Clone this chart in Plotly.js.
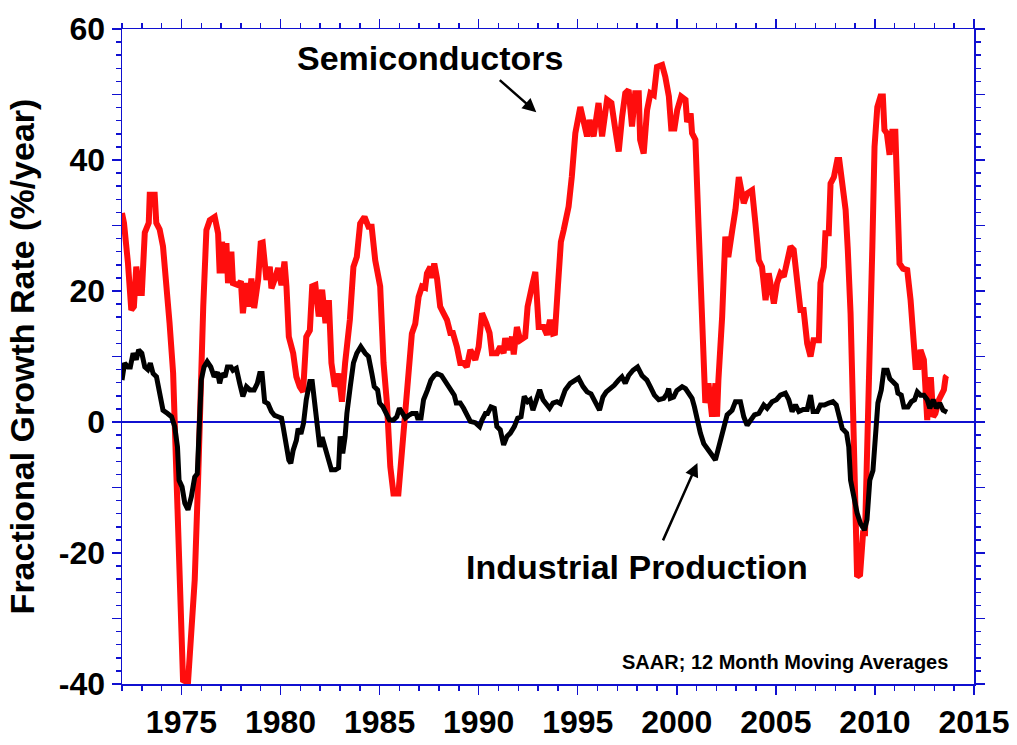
<!DOCTYPE html>
<html>
<head>
<meta charset="utf-8">
<script src="https://cdn.plot.ly/plotly-3.0.1.min.js"></script>
<style>html,body{margin:0;padding:0;background:#fff;}#chart{width:1017px;height:745px;}</style>
</head>
<body>
<div id="chart"></div>
<script>
// Semiconductors (red) — decimal year / growth %/yr
const semiYears = [1972.00,1972.10,1972.30,1972.47,1972.60,1972.72,1972.90,1973.00,1973.15,1973.35,1973.40,1973.65,1973.73,1973.90,1974.07,1974.24,1974.40,1974.58,1974.70,1974.83,1975.00,1975.08,1975.33,1975.50,1975.67,1975.84,1976.00,1976.10,1976.26,1976.43,1976.68,1976.85,1976.93,1977.05,1977.20,1977.27,1977.35,1977.52,1977.60,1977.86,1978.00,1978.10,1978.28,1978.40,1978.53,1978.67,1978.87,1979.00,1979.10,1979.29,1979.46,1979.54,1979.70,1979.88,1980.05,1980.20,1980.30,1980.42,1980.64,1980.80,1980.97,1981.14,1981.30,1981.48,1981.60,1981.76,1981.93,1982.10,1982.27,1982.44,1982.57,1982.74,1982.93,1983.10,1983.26,1983.50,1983.68,1983.85,1984.02,1984.24,1984.44,1984.60,1984.78,1985.03,1985.20,1985.37,1985.54,1985.70,1985.95,1986.13,1986.30,1986.46,1986.63,1986.80,1986.97,1987.14,1987.30,1987.39,1987.56,1987.64,1987.76,1987.90,1988.06,1988.23,1988.40,1988.57,1988.70,1988.90,1989.07,1989.24,1989.40,1989.58,1989.83,1990.00,1990.17,1990.38,1990.55,1990.67,1990.92,1991.09,1991.26,1991.34,1991.50,1991.68,1991.77,1991.93,1992.10,1992.35,1992.47,1992.69,1992.86,1993.03,1993.28,1993.45,1993.60,1993.75,1993.85,1994.00,1994.15,1994.29,1994.54,1994.70,1994.88,1995.13,1995.30,1995.47,1995.60,1995.80,1996.05,1996.23,1996.48,1996.70,1996.90,1997.07,1997.24,1997.40,1997.57,1997.74,1997.90,1998.08,1998.15,1998.33,1998.50,1998.67,1998.84,1999.00,1999.26,1999.42,1999.60,1999.72,1999.88,2000.02,2000.22,2000.44,2000.52,2000.70,2000.77,2000.94,2001.10,2001.27,2001.44,2001.60,2001.78,2001.95,2002.03,2002.10,2002.29,2002.45,2002.60,2002.80,2002.96,2003.13,2003.38,2003.55,2003.80,2003.97,2004.14,2004.30,2004.48,2004.64,2004.90,2005.06,2005.23,2005.40,2005.57,2005.74,2005.90,2006.07,2006.24,2006.40,2006.58,2006.75,2006.90,2007.17,2007.25,2007.42,2007.50,2007.67,2007.76,2007.93,2008.10,2008.20,2008.35,2008.52,2008.63,2008.77,2008.90,2009.02,2009.10,2009.25,2009.40,2009.50,2009.60,2009.75,2009.87,2009.98,2010.12,2010.28,2010.40,2010.48,2010.60,2010.74,2010.87,2011.03,2011.12,2011.24,2011.42,2011.63,2011.80,2011.96,2012.05,2012.20,2012.30,2012.47,2012.55,2012.64,2012.72,2012.83,2012.94,2013.05,2013.23,2013.40,2013.48,2013.57,2013.62];
const semiValues = [31.9,30.4,24.3,17.1,17.6,23.7,19.7,19.7,28.9,30.4,34.7,34.7,30.4,29.4,26.8,21.7,15.1,7.5,-3.8,-19.0,-29.2,-39.4,-39.8,-31.8,-24.1,-8.9,9.0,17.6,29.3,30.8,31.3,28.8,22.7,27.5,22.7,27.3,21.2,26.0,21.2,20.9,21.5,16.6,21.2,17.6,21.9,17.4,21.7,27.3,27.4,21.7,23.7,20.4,21.7,23.5,20.9,24.5,20.7,13.0,10.5,6.9,5.4,4.6,13.0,14.0,20.7,20.9,16.1,20.2,15.1,18.6,9.0,5.4,7.4,3.1,9.0,15.6,23.7,25.2,30.3,31.3,29.8,29.8,24.7,20.7,9.0,2.9,-6.8,-10.9,-10.9,-4.8,1.3,7.9,13.5,15.0,19.1,20.7,20.5,22.7,23.7,22.0,24.2,21.9,17.6,16.6,15.6,13.6,13.6,11.5,9.0,9.0,8.4,11.0,9.5,11.5,16.6,15.1,13.6,10.5,10.5,11.5,10.5,12.8,11.0,13.0,10.3,14.5,12.5,13.0,17.6,20.7,22.9,14.5,14.5,13.3,15.6,13.5,13.6,20.7,27.5,29.3,32.9,37.4,44.1,48.1,45.6,43.6,46.1,43.6,48.7,43.6,49.2,48.7,44.6,41.3,46.6,50.2,50.7,45.1,50.2,50.2,43.1,41.0,47.6,50.2,49.9,54.2,54.5,52.7,49.7,44.8,44.8,47.6,49.7,49.2,45.8,47.1,44.1,43.1,29.8,16.1,2.9,5.9,0.8,5.9,0.8,6.4,16.1,28.3,25.2,29.3,32.4,37.4,33.4,34.9,35.4,30.3,24.7,23.7,18.6,22.7,18.1,21.2,22.7,22.2,24.7,26.8,26.3,22.2,17.1,17.1,12.0,10.0,12.5,12.5,21.2,23.7,28.8,28.8,36.4,37.4,40.0,40.0,35.4,32.4,26.3,16.6,1.3,-16.5,-23.6,-23.3,-17.0,-17.0,-6.3,6.4,26.8,42.0,48.1,49.7,49.7,44.6,44.1,40.8,44.3,44.3,34.4,24.2,23.4,23.2,18.6,13.5,8.4,8.4,11.0,9.5,3.9,0.3,6.4,6.4,0.8,1.3,3.4,4.9,4.9,6.9,7.1];

// Industrial Production (black)
const indYears = [1972.00,1972.13,1972.30,1972.42,1972.56,1972.72,1972.84,1973.00,1973.15,1973.30,1973.43,1973.57,1973.74,1973.90,1974.07,1974.30,1974.50,1974.66,1974.80,1974.88,1975.03,1975.17,1975.33,1975.50,1975.67,1975.80,1975.89,1976.00,1976.14,1976.30,1976.48,1976.65,1976.82,1976.93,1977.05,1977.20,1977.32,1977.50,1977.60,1977.77,1977.94,1978.10,1978.28,1978.45,1978.67,1978.83,1978.95,1979.07,1979.20,1979.37,1979.54,1979.70,1979.88,1980.05,1980.13,1980.30,1980.42,1980.52,1980.64,1980.80,1980.89,1981.03,1981.16,1981.30,1981.48,1981.60,1981.73,1981.86,1981.98,1982.10,1982.24,1982.40,1982.57,1982.77,1982.93,1983.01,1983.14,1983.26,1983.35,1983.52,1983.68,1983.85,1984.05,1984.27,1984.44,1984.61,1984.73,1984.90,1985.00,1985.17,1985.34,1985.50,1985.70,1985.87,1986.00,1986.13,1986.30,1986.46,1986.63,1986.85,1986.92,1987.09,1987.22,1987.42,1987.59,1987.76,1987.90,1988.12,1988.31,1988.53,1988.77,1988.87,1989.07,1989.24,1989.40,1989.58,1989.83,1990.05,1990.17,1990.34,1990.45,1990.62,1990.79,1990.92,1991.09,1991.26,1991.43,1991.60,1991.80,1991.97,1992.14,1992.30,1992.47,1992.60,1992.74,1992.90,1993.08,1993.25,1993.42,1993.58,1993.75,1993.95,1994.12,1994.37,1994.62,1994.82,1995.04,1995.27,1995.47,1995.67,1995.89,1996.10,1996.27,1996.44,1996.64,1996.84,1997.06,1997.23,1997.40,1997.57,1997.79,1998.02,1998.24,1998.49,1998.66,1998.87,1999.09,1999.34,1999.50,1999.59,1999.67,1999.84,2000.00,2000.27,2000.44,2000.60,2000.77,2000.89,2001.02,2001.19,2001.36,2001.56,2001.72,2001.95,2002.12,2002.29,2002.40,2002.54,2002.79,2002.96,2003.21,2003.38,2003.55,2003.72,2003.92,2004.14,2004.39,2004.56,2004.81,2005.03,2005.23,2005.48,2005.65,2005.82,2005.99,2006.16,2006.38,2006.58,2006.75,2006.88,2007.09,2007.25,2007.45,2007.67,2007.88,2008.05,2008.23,2008.35,2008.57,2008.68,2008.77,2008.93,2009.10,2009.27,2009.47,2009.60,2009.74,2009.90,2010.03,2010.15,2010.32,2010.45,2010.62,2010.75,2010.92,2011.08,2011.16,2011.33,2011.46,2011.67,2011.84,2012.00,2012.14,2012.30,2012.47,2012.64,2012.77,2012.94,2013.10,2013.27,2013.44,2013.64];
const indValues = [6.4,9.0,8.4,8.4,10.5,9.5,11.0,10.5,8.4,8.0,9.0,7.4,6.9,4.4,1.8,1.3,0.8,-0.7,-3.8,-8.9,-9.9,-12.4,-13.4,-11.4,-8.4,-7.9,1.3,6.4,8.4,9.2,8.4,6.9,7.6,5.9,7.4,6.9,8.4,8.4,7.9,8.2,5.9,3.9,5.4,4.9,4.9,5.9,7.4,7.4,3.1,2.8,1.6,1.0,0.8,0.6,-0.7,-3.8,-5.8,-6.3,-4.3,-2.8,-1.0,-1.8,-0.2,3.4,6.2,6.2,2.3,-0.2,-3.8,-2.3,-3.8,-5.8,-7.3,-7.3,-7.0,-2.2,-4.8,-2.2,1.3,5.4,9.0,10.5,11.5,10.5,10.0,7.4,5.4,4.9,2.9,2.3,1.3,0.3,0.3,0.8,2.1,1.3,0.6,1.0,1.3,1.3,0.6,0.6,3.4,4.9,6.4,7.1,7.4,7.1,6.2,5.1,4.1,2.9,2.9,2.1,1.0,0.1,-0.1,-0.7,0.3,1.3,1.3,2.3,2.1,-0.7,-1.2,-3.5,-2.2,-1.7,-0.7,0.6,0.8,3.9,3.1,3.4,1.8,3.4,4.9,3.4,2.6,2.1,2.9,3.1,2.8,4.9,5.9,6.2,6.7,5.4,4.6,4.3,3.1,1.8,3.8,4.6,5.1,5.6,6.4,6.9,5.9,7.1,7.9,8.4,7.1,6.4,5.4,4.1,3.4,3.6,4.3,5.1,3.6,3.8,4.8,5.4,5.1,4.3,3.6,2.3,0.3,-1.7,-3.3,-4.0,-4.8,-5.8,-4.0,-2.2,-0.7,1.1,1.8,3.1,3.1,0.8,-0.5,0.3,1.1,1.3,2.6,2.1,3.1,3.4,4.1,4.4,3.4,1.6,2.6,1.6,1.9,1.9,4.1,1.6,1.6,2.6,2.6,2.9,3.1,2.6,0.3,-1.0,-1.7,-3.8,-8.9,-11.4,-13.9,-15.5,-16.5,-14.9,-8.9,-7.4,-1.2,2.9,4.9,7.9,7.9,6.6,6.1,5.6,4.4,4.1,2.3,2.3,3.1,3.4,4.6,4.1,4.1,3.4,2.1,3.4,2.1,2.9,1.8,1.5];

const yTickVals = [-40,-30,-20,-10,0,10,20,30,40,50,60];
const yTickText = ['-40','','-20','','0','','20','','40','','60'];
const seriesLabels = ['Semiconductors','Industrial Production'];
const noteText = 'SAAR; 12 Month Moving Averages';
const yTitle = 'Fractional Growth Rate (%/year)';

const blue = '#1010d0';
const fontFam = 'Liberation Sans, Arial, Helvetica, sans-serif';

const traces = [
  {x: semiYears, y: semiValues, type:'scatter', mode:'lines', line:{color:'#ff0d0d', width:6}, hoverinfo:'skip'},
  {x: indYears, y: indValues, type:'scatter', mode:'lines', line:{color:'#000000', width:5}, hoverinfo:'skip'}
];

const axisCommon = {
  showgrid:false, showline:true, linecolor:blue, linewidth:1.5,
  ticks:'outside', tickcolor:blue, tickwidth:1.5, ticklen:9, mirror:'ticks',
  tickfont:{family:fontFam, size:32, color:'#000', weight:700}
};

const layout = {
  width:1017, height:745,
  margin:{l:122, r:43, t:29, b:61},
  paper_bgcolor:'#fff', plot_bgcolor:'#fff',
  showlegend:false,
  font:{family:fontFam, color:'#000'},
  xaxis: Object.assign({}, axisCommon, {
    range:[1972, 2015], tickmode:'linear', tick0:1975, dtick:5,
    zeroline:false, ticklabelstandoff:0,
    minor:{tick0:1972, dtick:1, ticklen:5, tickcolor:blue, tickwidth:1.5, ticks:'outside'}
  }),
  yaxis: Object.assign({}, axisCommon, {
    range:[-40, 60], tickmode:'array', tickvals:yTickVals, ticktext:yTickText,
    zeroline:true, zerolinecolor:blue, zerolinewidth:2.5,
    minor:{tickmode:'linear', tick0:0, dtick:2, ticklen:5, tickcolor:blue, tickwidth:1.5, ticks:'outside'},
    title:{text:yTitle, font:{family:fontFam, size:34, color:'#000', weight:700}, standoff:14}
  }),
  annotations:[
    {x:1987.56, y:55.6, xref:'x', yref:'y', text:seriesLabels[0], showarrow:false,
     font:{family:fontFam, size:34, color:'#000', weight:700}},
    {x:1997.98, y:-22.1, xref:'x', yref:'y', text:seriesLabels[1], showarrow:false,
     font:{family:fontFam, size:34, color:'#000', weight:700}},
    {x:2013.77, y:-36.6, xref:'x', yref:'y', xanchor:'right', text:noteText, showarrow:false,
     font:{family:fontFam, size:20, color:'#000', weight:700}},
    {x:1992.91, y:47.3, xref:'x', yref:'y', axref:'x', ayref:'y', ax:1990.99, ay:52.4,
     text:'', showarrow:true, arrowhead:2, arrowsize:1.1, arrowwidth:2.5, arrowcolor:'#000'},
    {x:2001.04, y:-6.26, xref:'x', yref:'y', axref:'x', ayref:'y', ax:1999.27, ay:-18.3,
     text:'', showarrow:true, arrowhead:2, arrowsize:1.1, arrowwidth:2.5, arrowcolor:'#000'}
  ]
};

Plotly.newPlot('chart', traces, layout, {displayModeBar:false, staticPlot:true});
</script>
</body>
</html>
